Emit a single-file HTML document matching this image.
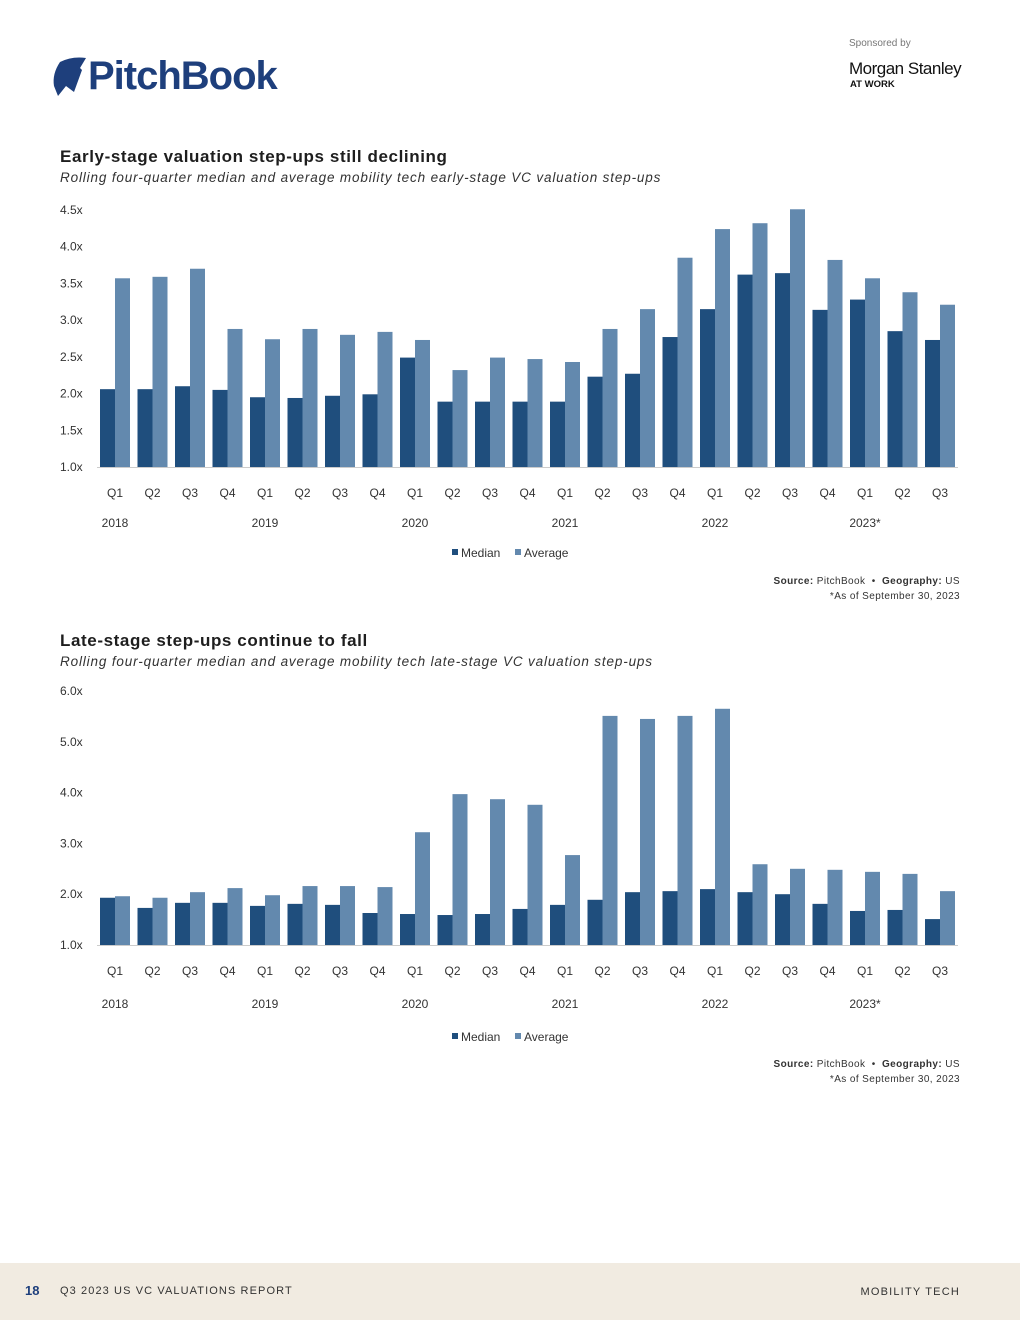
<!DOCTYPE html>
<html><head><meta charset="utf-8">
<style>
body{margin:0;width:1020px;height:1320px;background:#fff;font-family:"Liberation Sans",sans-serif;position:relative;overflow:hidden}
.abs{position:absolute}
.title{left:60px;font-size:17px;font-weight:bold;color:#1e1e1e;letter-spacing:0.6px}
.sub{left:60px;font-size:13.5px;font-style:italic;color:#333;letter-spacing:0.85px}
.src{right:60px;font-size:10px;color:#333;text-align:right;letter-spacing:0.4px;line-height:15px}
svg text{font-family:"Liberation Sans",sans-serif;font-size:12px;fill:#333}
</style></head><body>
<div class="abs" style="left:52px;top:54px;height:44px;display:flex;align-items:center">
<svg width="34" height="40" viewBox="0 0 34 40"><path d="M8 6 Q20 0 34 2 L28 12 L30 14 L22 36 L14 30 L6 40 L2 30 Q0 18 8 6Z" fill="#1e3f7c"/></svg>
<span style="font-size:40px;font-weight:bold;color:#1e3f7c;letter-spacing:-1px;margin-left:2px">PitchBook</span></div>
<div class="abs" style="left:849px;top:38px;font-size:10px;color:#777">Sponsored by</div>
<div class="abs" style="left:849px;top:59px;font-size:17px;color:#111;letter-spacing:-0.5px">Morgan Stanley</div>
<div class="abs" style="left:850px;top:79px;font-size:9.5px;font-weight:bold;color:#111">AT WORK</div>

<div class="abs title" style="top:147px">Early-stage valuation step-ups still declining</div>
<div class="abs sub" style="top:170px">Rolling four-quarter median and average mobility tech early-stage VC valuation step-ups</div>
<svg id="c1" class="abs" style="left:0;top:195px" width="1020" height="380"></svg>
<div class="abs src" style="top:574px"><b>Source:</b> PitchBook &nbsp;•&nbsp; <b>Geography:</b> US<br>*As of September 30, 2023</div>

<div class="abs title" style="top:631px">Late-stage step-ups continue to fall</div>
<div class="abs sub" style="top:654px">Rolling four-quarter median and average mobility tech late-stage VC valuation step-ups</div>
<svg id="c2" class="abs" style="left:0;top:675px" width="1020" height="385"></svg>
<div class="abs src" style="top:1057px"><b>Source:</b> PitchBook &nbsp;•&nbsp; <b>Geography:</b> US<br>*As of September 30, 2023</div>

<div class="abs" style="left:0;top:1263px;width:1020px;height:57px;background:#f1ebe1">
<span class="abs" style="left:25px;top:20px;font-size:13px;font-weight:bold;color:#1e3f7c">18</span>
<span class="abs" style="left:60px;top:22px;font-size:11px;color:#333;letter-spacing:1.1px">Q3 2023 US VC VALUATIONS REPORT</span>
<span class="abs" style="right:60px;top:23px;font-size:11px;color:#333;letter-spacing:1.2px">MOBILITY TECH</span></div>

<script>
const quarters=["Q1","Q2","Q3","Q4","Q1","Q2","Q3","Q4","Q1","Q2","Q3","Q4","Q1","Q2","Q3","Q4","Q1","Q2","Q3","Q4","Q1","Q2","Q3"];
const years=["2018","2019","2020","2021","2022","2023*"];
const early_median=[2.06,2.06,2.10,2.05,1.95,1.94,1.97,1.99,2.49,1.89,1.89,1.89,1.89,2.23,2.27,2.77,3.15,3.62,3.64,3.14,3.28,2.85,2.73];
const early_average=[3.57,3.59,3.70,2.88,2.74,2.88,2.80,2.84,2.73,2.32,2.49,2.47,2.43,2.88,3.15,3.85,4.24,4.32,4.51,3.82,3.57,3.38,3.21];
const early_ticks=[1.0,1.5,2.0,2.5,3.0,3.5,4.0,4.5];
const late_median=[1.93,1.73,1.83,1.83,1.77,1.81,1.79,1.63,1.61,1.59,1.61,1.71,1.79,1.89,2.04,2.06,2.10,2.04,2.00,1.81,1.67,1.69,1.51];
const late_average=[1.96,1.93,2.04,2.12,1.98,2.16,2.16,2.14,3.22,3.97,3.87,3.76,2.77,5.51,5.45,5.51,5.65,2.59,2.50,2.48,2.44,2.40,2.06];
const late_ticks=[1.0,2.0,3.0,4.0,5.0,6.0];

function draw(id,med,avg,ticks,y0px,ytop,yLabelX,yearY,legendY){
  const svg=document.getElementById(id),NS="http://www.w3.org/2000/svg";
  const vmin=ticks[0],vmax=ticks[ticks.length-1];
  const y=v=>y0px-(v-vmin)/(vmax-vmin)*(y0px-ytop);
  const x=i=>115+i*37.5;
  function mk(t,a,txt){const e=document.createElementNS(NS,t);for(const k in a)e.setAttribute(k,a[k]);if(txt!==undefined)e.textContent=txt;svg.appendChild(e);return e;}
  ticks.forEach(t=>{const e=mk("text",{x:yLabelX,y:y(t)+4},t.toFixed(1)+"x");
    
    });
  med.forEach((v,i)=>{const e=mk("rect",{x:x(i)-15,y:y(v),width:15,height:y0px-y(v),fill:"#1f4e7d"});
    
    });
  avg.forEach((v,i)=>{const e=mk("rect",{x:x(i),y:y(v),width:15,height:y0px-y(v),fill:"#6389ae"});
    
    });
  const bl=mk("line",{x1:97,x2:958,y1:y0px+0.5,y2:y0px+0.5,stroke:"#ccc","stroke-width":1});
  
  
  quarters.forEach((q,i)=>{const e=mk("text",{x:x(i),y:y0px+30,"text-anchor":"middle"},q);
    
    });
  years.forEach((yr,j)=>{const e=mk("text",{x:x(j*4),y:yearY,"text-anchor":"middle"},yr);
    
    });
  const l1=mk("rect",{x:452,y:legendY-8,width:6,height:6,fill:"#1f4e7d"});
  
  
  const t1=mk("text",{x:461,y:legendY},"Median");
  
  
  const l2=mk("rect",{x:515,y:legendY-8,width:6,height:6,fill:"#6389ae"});
  
  
  const t2=mk("text",{x:524,y:legendY},"Average");
  
  
}
draw("c1",early_median,early_average,early_ticks,272,15,60,332,362);
draw("c2",late_median,late_average,late_ticks,270,16,60,333,366);
</script>
</body></html>
